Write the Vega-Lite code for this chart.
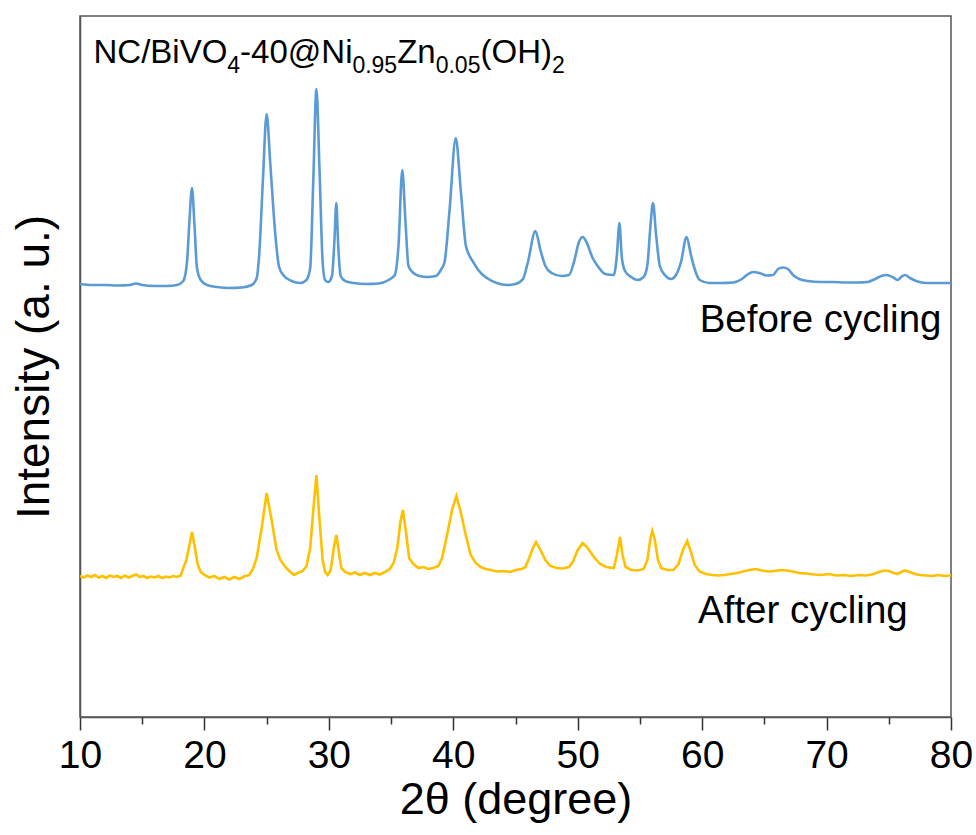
{
  "$schema": "https://vega.github.io/schema/vega-lite/v6.json",
  "width": 871,
  "height": 701,
  "autosize": {"type": "none"},
  "padding": {"left": 80, "top": 16, "right": 25, "bottom": 118},
  "background": "white",
  "config": {
    "view": {"stroke": "#555555", "strokeWidth": 1.5},
    "axis": {"labelFont": "Liberation Sans", "titleFont": "Liberation Sans", "grid": false, "domainColor": "#555555", "domainWidth": 1.5, "tickColor": "#333333", "tickWidth": 1.5, "labelColor": "black", "titleColor": "black", "titleFontWeight": "normal"},
    "text": {"font": "Liberation Sans", "color": "black"}
  },
  "datasets": {
    "before": [
      {"angle":10.0,"intensity":433},{"angle":11.0,"intensity":432},{"angle":12.0,"intensity":432},{"angle":13.0,"intensity":431.5},{"angle":14.0,"intensity":432},{"angle":14.5,"intensity":433.5},{"angle":15.0,"intensity":432},{"angle":16.0,"intensity":431},{"angle":17.0,"intensity":431},{"angle":17.8,"intensity":432},{"angle":18.3,"intensity":436},{"angle":18.6,"intensity":455},{"angle":18.8,"intensity":497},{"angle":19.0,"intensity":529},{"angle":19.2,"intensity":492},{"angle":19.4,"intensity":449},{"angle":19.7,"intensity":437},{"angle":20.2,"intensity":432},{"angle":21.0,"intensity":430},{"angle":22.0,"intensity":429},{"angle":23.0,"intensity":429.5},{"angle":23.8,"intensity":432},{"angle":24.2,"intensity":439},{"angle":24.4,"intensity":462},{"angle":24.7,"intensity":537},{"angle":25.0,"intensity":603},{"angle":25.3,"intensity":552},{"angle":25.7,"intensity":482},{"angle":26.0,"intensity":450},{"angle":26.4,"intensity":441},{"angle":27.0,"intensity":436},{"angle":27.7,"intensity":434},{"angle":28.2,"intensity":437},{"angle":28.5,"intensity":449},{"angle":28.75,"intensity":537},{"angle":29.0,"intensity":628},{"angle":29.25,"intensity":547},{"angle":29.5,"intensity":455},{"angle":29.7,"intensity":437},{"angle":29.95,"intensity":435},{"angle":30.25,"intensity":441},{"angle":30.45,"intensity":477},{"angle":30.6,"intensity":514},{"angle":30.75,"intensity":472},{"angle":30.95,"intensity":441},{"angle":31.3,"intensity":436},{"angle":32.0,"intensity":434},{"angle":33.0,"intensity":433},{"angle":34.0,"intensity":433.5},{"angle":34.8,"intensity":437},{"angle":35.3,"intensity":442},{"angle":35.6,"intensity":472},{"angle":35.9,"intensity":547},{"angle":36.15,"intensity":497},{"angle":36.4,"intensity":451},{"angle":36.8,"intensity":444},{"angle":37.3,"intensity":441},{"angle":37.9,"intensity":440},{"angle":38.6,"intensity":441},{"angle":39.0,"intensity":447},{"angle":39.3,"intensity":455},{"angle":39.7,"intensity":507},{"angle":40.2,"intensity":579},{"angle":40.6,"intensity":527},{"angle":41.0,"intensity":472},{"angle":41.2,"intensity":464},{"angle":41.6,"intensity":455},{"angle":42.0,"intensity":447},{"angle":42.7,"intensity":439},{"angle":43.5,"intensity":434},{"angle":44.3,"intensity":432},{"angle":45.0,"intensity":433},{"angle":45.6,"intensity":438},{"angle":46.0,"intensity":455},{"angle":46.6,"intensity":486},{"angle":47.0,"intensity":467},{"angle":47.4,"intensity":451},{"angle":47.9,"intensity":444},{"angle":48.7,"intensity":441},{"angle":49.3,"intensity":442},{"angle":49.7,"intensity":455},{"angle":50.1,"intensity":475},{"angle":50.4,"intensity":480},{"angle":50.7,"intensity":475},{"angle":51.2,"intensity":459},{"angle":51.6,"intensity":451},{"angle":52.2,"intensity":443},{"angle":52.9,"intensity":442},{"angle":53.15,"intensity":462},{"angle":53.35,"intensity":494},{"angle":53.55,"intensity":459},{"angle":53.8,"intensity":446},{"angle":54.3,"intensity":440},{"angle":54.8,"intensity":437},{"angle":55.3,"intensity":440},{"angle":55.6,"intensity":452},{"angle":55.85,"intensity":492},{"angle":56.05,"intensity":514},{"angle":56.3,"intensity":482},{"angle":56.6,"intensity":451},{"angle":57.0,"intensity":442},{"angle":57.5,"intensity":438},{"angle":57.9,"intensity":442},{"angle":58.3,"intensity":455},{"angle":58.75,"intensity":480},{"angle":59.1,"intensity":462},{"angle":59.35,"intensity":450},{"angle":59.8,"intensity":437},{"angle":60.6,"intensity":434},{"angle":61.5,"intensity":434},{"angle":62.5,"intensity":434.5},{"angle":63.2,"intensity":438},{"angle":63.7,"intensity":443},{"angle":64.1,"intensity":445},{"angle":64.6,"intensity":444},{"angle":65.2,"intensity":441.5},{"angle":65.7,"intensity":442},{"angle":66.1,"intensity":448},{"angle":66.5,"intensity":449.5},{"angle":66.9,"intensity":448},{"angle":67.3,"intensity":442},{"angle":67.8,"intensity":438},{"angle":68.5,"intensity":436},{"angle":69.5,"intensity":435},{"angle":70.5,"intensity":435},{"angle":71.5,"intensity":434.5},{"angle":72.5,"intensity":434.5},{"angle":73.3,"intensity":435},{"angle":73.9,"intensity":438},{"angle":74.4,"intensity":441},{"angle":74.8,"intensity":442},{"angle":75.3,"intensity":440},{"angle":75.7,"intensity":437},{"angle":76.0,"intensity":440},{"angle":76.3,"intensity":442},{"angle":76.7,"intensity":439},{"angle":77.2,"intensity":436},{"angle":78.0,"intensity":434},{"angle":79.0,"intensity":434},{"angle":80.0,"intensity":434}
    ],
    "after": [
      {"angle":10.0,"intensity":141},{"angle":10.3,"intensity":139.5},{"angle":10.6,"intensity":141.5},{"angle":10.9,"intensity":140},{"angle":11.2,"intensity":142},{"angle":11.5,"intensity":139.5},{"angle":11.8,"intensity":141},{"angle":12.1,"intensity":139},{"angle":12.4,"intensity":141.5},{"angle":12.7,"intensity":140},{"angle":13.0,"intensity":141},{"angle":13.3,"intensity":139},{"angle":13.6,"intensity":141.5},{"angle":13.9,"intensity":139.5},{"angle":14.2,"intensity":141},{"angle":14.5,"intensity":142.5},{"angle":14.8,"intensity":140},{"angle":15.1,"intensity":141},{"angle":15.4,"intensity":139},{"angle":15.7,"intensity":140.5},{"angle":16.0,"intensity":139.5},{"angle":16.3,"intensity":141},{"angle":16.6,"intensity":139},{"angle":16.9,"intensity":140.5},{"angle":17.2,"intensity":139.5},{"angle":17.5,"intensity":141},{"angle":17.8,"intensity":140},{"angle":18.1,"intensity":141.5},{"angle":18.3,"intensity":149},{"angle":18.55,"intensity":157},{"angle":18.8,"intensity":172},{"angle":19.0,"intensity":185},{"angle":19.2,"intensity":172},{"angle":19.45,"intensity":153},{"angle":19.7,"intensity":145},{"angle":20.0,"intensity":142},{"angle":20.4,"intensity":139.5},{"angle":20.8,"intensity":141},{"angle":21.2,"intensity":138},{"angle":21.6,"intensity":140},{"angle":22.0,"intensity":137.5},{"angle":22.4,"intensity":140},{"angle":22.8,"intensity":138},{"angle":23.2,"intensity":140.5},{"angle":23.6,"intensity":142},{"angle":23.9,"intensity":148},{"angle":24.2,"intensity":159},{"angle":24.6,"intensity":189},{"angle":25.0,"intensity":224},{"angle":25.4,"intensity":197},{"angle":25.8,"intensity":167},{"angle":26.1,"intensity":157},{"angle":26.5,"intensity":150},{"angle":26.9,"intensity":145},{"angle":27.2,"intensity":142},{"angle":27.5,"intensity":144},{"angle":27.9,"intensity":146},{"angle":28.2,"intensity":151},{"angle":28.5,"intensity":169},{"angle":28.75,"intensity":207},{"angle":29.0,"intensity":242},{"angle":29.25,"intensity":197},{"angle":29.5,"intensity":157},{"angle":29.7,"intensity":145},{"angle":29.9,"intensity":142},{"angle":30.15,"intensity":147},{"angle":30.4,"intensity":169},{"angle":30.6,"intensity":182},{"angle":30.8,"intensity":165},{"angle":31.0,"intensity":149},{"angle":31.3,"intensity":145},{"angle":31.7,"intensity":143},{"angle":32.1,"intensity":144.5},{"angle":32.5,"intensity":142},{"angle":32.9,"intensity":144},{"angle":33.3,"intensity":142},{"angle":33.7,"intensity":144},{"angle":34.1,"intensity":142.5},{"angle":34.5,"intensity":145},{"angle":34.9,"intensity":148},{"angle":35.2,"intensity":154},{"angle":35.5,"intensity":169},{"angle":35.75,"intensity":195},{"angle":35.95,"intensity":207},{"angle":36.2,"intensity":185},{"angle":36.45,"intensity":159},{"angle":36.8,"intensity":153},{"angle":37.2,"intensity":149},{"angle":37.6,"intensity":150},{"angle":38.0,"intensity":148},{"angle":38.4,"intensity":149},{"angle":38.8,"intensity":151},{"angle":39.1,"intensity":159},{"angle":39.5,"intensity":182},{"angle":39.9,"intensity":207},{"angle":40.25,"intensity":221},{"angle":40.6,"intensity":205},{"angle":41.0,"intensity":182},{"angle":41.4,"intensity":162},{"angle":41.8,"intensity":154},{"angle":42.2,"intensity":150},{"angle":42.6,"intensity":148},{"angle":43.0,"intensity":147},{"angle":43.5,"intensity":145.5},{"angle":44.0,"intensity":146},{"angle":44.6,"intensity":145},{"angle":45.0,"intensity":147},{"angle":45.5,"intensity":148},{"angle":45.8,"intensity":150},{"angle":46.1,"intensity":159},{"angle":46.4,"intensity":169},{"angle":46.65,"intensity":175},{"angle":47.0,"intensity":167},{"angle":47.4,"intensity":157},{"angle":47.8,"intensity":151},{"angle":48.3,"intensity":149},{"angle":48.8,"intensity":148.5},{"angle":49.3,"intensity":150},{"angle":49.6,"intensity":155},{"angle":50.0,"intensity":167},{"angle":50.4,"intensity":174},{"angle":50.8,"intensity":169},{"angle":51.3,"intensity":160},{"angle":51.8,"intensity":153},{"angle":52.3,"intensity":150},{"angle":52.9,"intensity":149},{"angle":53.15,"intensity":162},{"angle":53.4,"intensity":180},{"angle":53.6,"intensity":162},{"angle":53.85,"intensity":150},{"angle":54.3,"intensity":147},{"angle":54.8,"intensity":146.5},{"angle":55.3,"intensity":148},{"angle":55.6,"intensity":157},{"angle":55.85,"intensity":179},{"angle":56.0,"intensity":186},{"angle":56.2,"intensity":177},{"angle":56.45,"intensity":157},{"angle":56.7,"intensity":149},{"angle":57.2,"intensity":147},{"angle":57.7,"intensity":147},{"angle":58.1,"intensity":153},{"angle":58.45,"intensity":167},{"angle":58.8,"intensity":176},{"angle":59.1,"intensity":165},{"angle":59.4,"intensity":152},{"angle":59.8,"intensity":145.5},{"angle":60.3,"intensity":143},{"angle":60.8,"intensity":142},{"angle":61.3,"intensity":141.5},{"angle":61.8,"intensity":142},{"angle":62.3,"intensity":143},{"angle":62.8,"intensity":144},{"angle":63.3,"intensity":145.5},{"angle":63.8,"intensity":147},{"angle":64.3,"intensity":148},{"angle":64.8,"intensity":146.5},{"angle":65.3,"intensity":145.5},{"angle":65.8,"intensity":146},{"angle":66.3,"intensity":147},{"angle":66.8,"intensity":146.5},{"angle":67.3,"intensity":145.5},{"angle":67.8,"intensity":144},{"angle":68.4,"intensity":143.5},{"angle":69.0,"intensity":142.5},{"angle":69.6,"intensity":142},{"angle":70.2,"intensity":143},{"angle":70.8,"intensity":141.5},{"angle":71.4,"intensity":142},{"angle":72.0,"intensity":141},{"angle":72.6,"intensity":142},{"angle":73.2,"intensity":141.5},{"angle":73.8,"intensity":143},{"angle":74.2,"intensity":145},{"angle":74.6,"intensity":146.5},{"angle":75.0,"intensity":146},{"angle":75.4,"intensity":144},{"angle":75.7,"intensity":143},{"angle":76.0,"intensity":145},{"angle":76.3,"intensity":146.5},{"angle":76.7,"intensity":145},{"angle":77.1,"intensity":143},{"angle":77.5,"intensity":142},{"angle":78.0,"intensity":141.5},{"angle":78.5,"intensity":141},{"angle":79.0,"intensity":142},{"angle":79.5,"intensity":141},{"angle":80.0,"intensity":141.5}
    ],
    "titleMain": [
      {"angle":11.085,"intensity":654,"text":"NC/BiVO"},
      {"angle":22.867,"intensity":654,"text":"-40@Ni"},
      {"angle":35.492,"intensity":654,"text":"Zn"},
      {"angle":42.187,"intensity":654,"text":"(OH)"}
    ],
    "titleSub": [
      {"angle":21.838,"intensity":654,"text":"4"},
      {"angle":31.892,"intensity":654,"text":"0.95"},
      {"angle":38.586,"intensity":654,"text":"0.05"},
      {"angle":47.933,"intensity":654,"text":"2"}
    ],
    "labels": [
      {"angle":59.8,"intensity":385,"text":"Before cycling"},
      {"angle":59.67,"intensity":94,"text":"After cycling"}
    ]
  },
  "layer": [
    {
      "data": {"name": "before"},
      "mark": {"type": "line", "color": "#5B9BD5", "strokeWidth": 2.6, "clip": true, "interpolate": "monotone"},
      "encoding": {
        "x": {"field": "angle", "type": "quantitative", "scale": {"domain": [10, 80], "nice": false, "zero": false},
          "axis": {"values": [10, 20, 30, 40, 50, 60, 70, 80], "tickSize": 13, "labelFontSize": 39, "labelPadding": 6, "labelFlush": false, "labelOverlap": false, "title": "2θ (degree)", "titleFontSize": 45, "titlePadding": 2, "orient": "bottom"}},
        "y": {"field": "intensity", "type": "quantitative", "scale": {"domain": [0, 701], "nice": false, "zero": false},
          "axis": {"labels": false, "ticks": false, "title": "Intensity (a. u.)", "titleFontSize": 46, "titlePadding": 22}}
      }
    },
    {
      "data": {"name": "after"},
      "mark": {"type": "line", "color": "#FFC000", "strokeWidth": 2.6, "clip": true},
      "encoding": {
        "x": {"field": "angle", "type": "quantitative", "axis": null},
        "y": {"field": "intensity", "type": "quantitative", "axis": null}
      }
    },
    {
      "data": {"name": "titleMain"},
      "mark": {"type": "text", "fontSize": 33, "align": "left", "baseline": "alphabetic"},
      "encoding": {
        "x": {"field": "angle", "type": "quantitative",
          "axis": {"values": [15, 25, 35, 45, 55, 65, 75], "labels": false, "tickSize": 7, "domain": false, "title": null, "orient": "bottom"}},
        "y": {"field": "intensity", "type": "quantitative", "axis": null},
        "text": {"field": "text"}
      }
    },
    {
      "data": {"name": "titleSub"},
      "mark": {"type": "text", "fontSize": 23, "align": "left", "baseline": "alphabetic", "dy": 10},
      "encoding": {
        "x": {"field": "angle", "type": "quantitative", "axis": null},
        "y": {"field": "intensity", "type": "quantitative", "axis": null},
        "text": {"field": "text"}
      }
    },
    {
      "data": {"name": "labels"},
      "mark": {"type": "text", "fontSize": 38.5, "align": "left", "baseline": "alphabetic"},
      "encoding": {
        "x": {"field": "angle", "type": "quantitative", "axis": null},
        "y": {"field": "intensity", "type": "quantitative", "axis": null},
        "text": {"field": "text"}
      }
    }
  ],
  "resolve": {"axis": {"x": "independent", "y": "independent"}}
}
